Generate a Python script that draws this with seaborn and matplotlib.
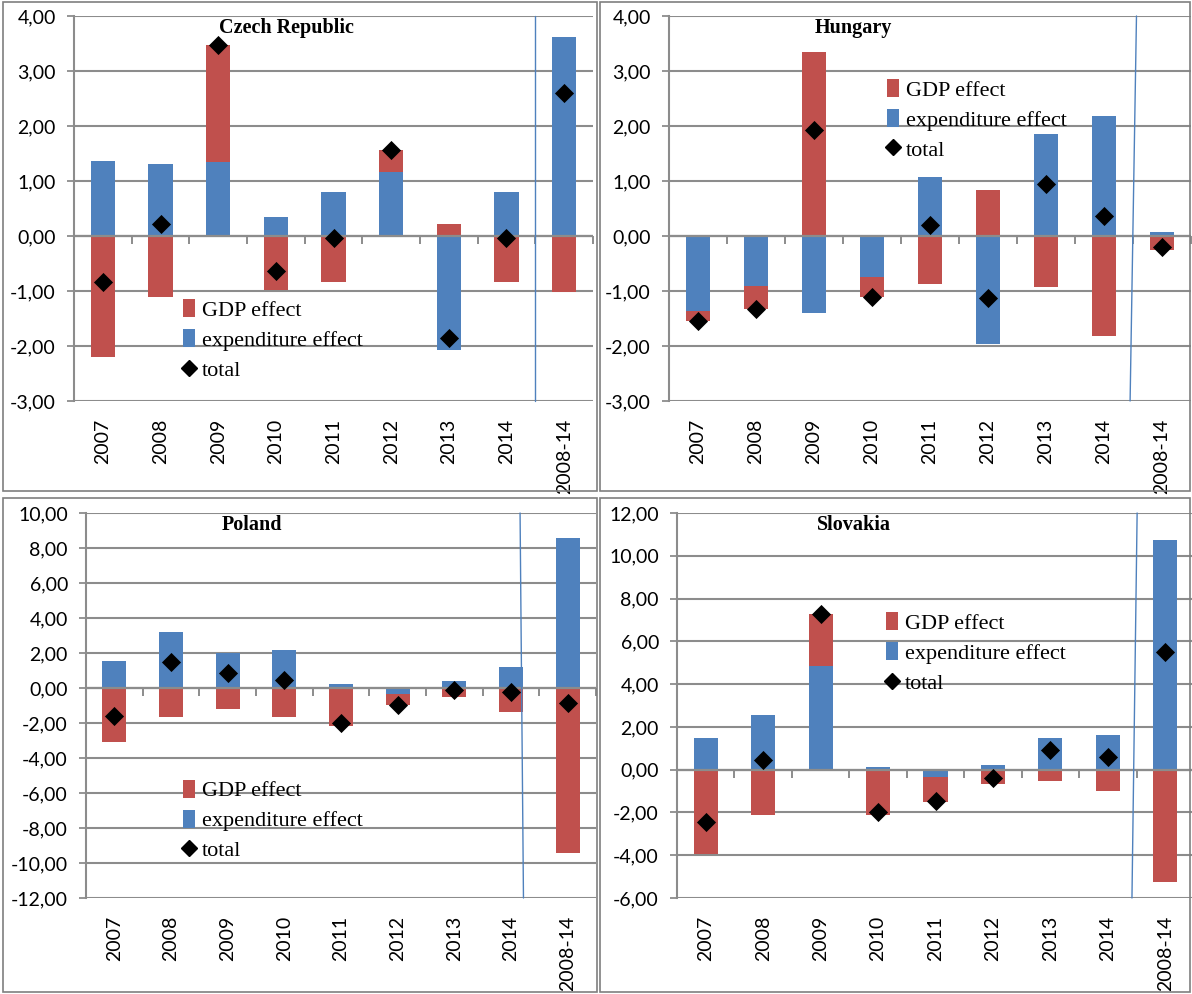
import matplotlib

matplotlib.use("Agg")

import matplotlib.pyplot as plt
import numpy as np
import pandas as pd
import seaborn as sns
from matplotlib.lines import Line2D
from matplotlib.patches import Patch, Rectangle
from matplotlib.ticker import FuncFormatter, MultipleLocator

W, H = 1192, 994

PERIODS = ["2007", "2008", "2009", "2010", "2011", "2012", "2013", "2014", "2008-14"]

CZ_EXP = [1.37, 1.31, 1.35, 0.34, 0.80, 1.16, -2.08, 0.80, 3.61]
CZ_GDP = [-2.20, -1.10, 2.12, -0.98, -0.84, 0.40, 0.22, -0.84, -1.01]
CZ_TOTAL = [-0.83, 0.21, 3.47, -0.64, -0.04, 1.56, -1.86, -0.04, 2.60]

HU_EXP = [-1.36, -0.90, -1.40, -0.75, 1.07, -1.96, 1.86, 2.19, 0.07]
HU_GDP = [-0.19, -0.43, 3.34, -0.36, -0.87, 0.83, -0.92, -1.81, -0.26]
HU_TOTAL = [-1.55, -1.32, 1.92, -1.11, 0.20, -1.13, 0.94, 0.37, -0.20]

PL_EXP = [1.56, 3.20, 2.02, 2.15, 0.23, -0.36, 0.42, 1.18, 8.57]
PL_GDP = [-3.10, -1.68, -1.20, -1.68, -2.17, -0.63, -0.53, -1.39, -9.45]
PL_TOTAL = [-1.60, 1.48, 0.85, 0.47, -1.98, -0.99, -0.11, -0.22, -0.88]

SK_EXP = [1.48, 2.57, 4.84, 0.14, -0.34, 0.22, 1.48, 1.64, 10.72]
SK_GDP = [-3.93, -2.13, 2.43, -2.13, -1.16, -0.65, -0.55, -1.01, -5.25]
SK_TOTAL = [-2.47, 0.46, 7.29, -2.00, -1.45, -0.40, 0.91, 0.61, 5.50]

LABELS = ["GDP effect", "expenditure effect", "total"]

RED = "#C0504D"
BLUE = "#4F81BD"
GRID = "#8C8C8C"

# pixel boxes (left, top, right, bottom) of each plot area
PANELS = [
    dict(name="Czech Republic", exp=CZ_EXP, gdp=CZ_GDP, total=CZ_TOTAL,
         ylim=(-3, 4), step=1, box=(74, 16, 593, 401),
         title_x=0.41, legend_xy=(0.21, 0.264), sep=(7.5, 7.5)),
    dict(name="Hungary", exp=HU_EXP, gdp=HU_GDP, total=HU_TOTAL,
         ylim=(-3, 4), step=1, box=(669, 16, 1191, 401),
         title_x=0.354, legend_xy=(0.418, 0.836), sep=(7.56, 7.45)),
    dict(name="Poland", exp=PL_EXP, gdp=PL_GDP, total=PL_TOTAL,
         ylim=(-12, 10), step=2, box=(86, 513, 596, 898),
         title_x=0.325, legend_xy=(0.19, 0.307), sep=(7.16, 7.22)),
    dict(name="Slovakia", exp=SK_EXP, gdp=SK_GDP, total=SK_TOTAL,
         ylim=(-6, 12), step=2, box=(677, 513, 1194, 898),
         title_x=0.343, legend_xy=(0.404, 0.742), sep=(7.51, 7.42)),
]

BORDERS = [(3, 2, 594, 489), (600, 2, 590, 489), (3, 498, 594, 494), (600, 498, 590, 494)]


def set_theme() -> None:
    sns.set_theme(style="white")
    plt.rcParams.update(
        {
            "figure.facecolor": "white",
            "axes.facecolor": "white",
            "text.color": "black",
            "xtick.color": "black",
            "ytick.color": "black",
        }
    )
    plt.rcParams["font.family"] = ["Lato", "DejaVu Sans"]


def comma_fmt(value: float, _pos: float) -> str:
    return f"{round(value, 2) + 0.0:.2f}".replace(".", ",")


def draw_panel(fig: plt.Figure, p: dict) -> None:
    left, top, right, bottom = p["box"]
    ax = fig.add_axes([left / W, 1 - bottom / H, (right - left) / W, (bottom - top) / H])
    df = pd.DataFrame({"period": PERIODS, "exp": p["exp"], "gdp": p["gdp"], "total": p["total"]})
    exp = df["exp"].to_numpy()
    gdp = df["gdp"].to_numpy()
    gdp_bottom = np.where(np.sign(gdp) == np.sign(exp), exp, 0.0)
    xs = np.arange(len(df))

    sns.barplot(data=df, x="period", y="exp", color=BLUE, saturation=1, width=0.42,
                errorbar=None, linewidth=0, ax=ax, zorder=2)
    ax.bar(xs, gdp, bottom=gdp_bottom, width=0.42, color=RED, linewidth=0, zorder=2)
    sns.scatterplot(data=df, x="period", y="total", marker="D", s=95, color="black",
                    edgecolor="black", linewidth=0, ax=ax, zorder=5)

    ymin, ymax = p["ylim"]
    ax.set_xlim(-0.5, len(df) - 0.5)
    ax.set_ylim(ymin, ymax)
    ax.yaxis.set_major_locator(MultipleLocator(p["step"]))
    ax.yaxis.set_major_formatter(FuncFormatter(comma_fmt))
    ax.grid(axis="y", color=GRID, linewidth=1.5)
    ax.grid(axis="x", visible=False)
    ax.set_axisbelow(True)
    for side in ["top", "right", "bottom"]:
        ax.spines[side].set_visible(False)
    ax.spines["left"].set_color(GRID)
    ax.spines["left"].set_linewidth(1.5)

    # category axis crossing at zero, with tick marks between categories
    ax.axhline(0, color=GRID, linewidth=1.6, zorder=3)
    ax.plot(np.arange(-0.5, len(df)), np.zeros(len(df) + 1), ls="none", marker=3,
            markersize=6, markeredgewidth=1.4, color=GRID, zorder=3, clip_on=False)
    ax.plot([p["sep"][0], p["sep"][1]], [ymax, ymin], color=BLUE, linewidth=1.0,
            zorder=4, clip_on=False)

    ax.set_xlabel("")
    ax.set_ylabel("")
    ax.tick_params(axis="x", length=0, pad=13, labelrotation=90, labelsize=14)
    ax.tick_params(axis="y", length=5, width=1.3, color=GRID, pad=8, labelsize=14, left=True)

    ax.text(p["title_x"], 0.995, p["name"], transform=ax.transAxes, ha="center", va="top",
            family="Liberation Serif", weight="bold", size=14.5)

    handles = [
        Patch(facecolor=RED, edgecolor="none"),
        Patch(facecolor=BLUE, edgecolor="none"),
        Line2D([], [], ls="none", marker="D", color="black", markersize=8.5),
    ]
    leg = ax.legend(handles, LABELS, loc="upper left", bbox_to_anchor=p["legend_xy"],
                    frameon=False, prop={"family": "Liberation Serif", "size": 16},
                    handlelength=0.55, handleheight=0.85, handletextpad=0.3,
                    labelspacing=0.38, borderpad=0, borderaxespad=0)
    leg.set_zorder(6)


def main() -> None:
    set_theme()
    fig = plt.figure(figsize=(W / 100, H / 100), dpi=100)
    for x, y, w, h in BORDERS:
        fig.add_artist(Rectangle((x / W, 1 - (y + h) / H), w / W, h / H, transform=fig.transFigure,
                                 fill=False, edgecolor="#7F7F7F", linewidth=1.2))
    for p in PANELS:
        draw_panel(fig, p)
    fig.savefig("out.png", dpi=100, facecolor="white")
    plt.close(fig)


if __name__ == "__main__":
    main()
